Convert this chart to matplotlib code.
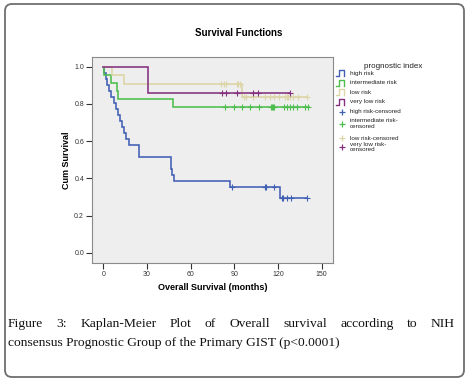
import matplotlib

matplotlib.use("Agg")

import matplotlib.pyplot as plt
from matplotlib.lines import Line2D
from matplotlib.patches import FancyBboxPatch


# ============================================================
# DATA
# ============================================================

# step curves: time of each step (months) and survival after it
high_t = [0, 0.6, 1.5, 2.7, 4.2, 5.6, 7.0, 8.5, 10.0, 11.3, 12.6,
          14.0, 15.8, 17.3, 24.2, 46.3, 47.2, 48.6, 87.2, 121.5]
high_s = [1.0, 0.968, 0.935, 0.903, 0.871, 0.839, 0.806, 0.774, 0.742,
          0.710, 0.677, 0.645, 0.613, 0.581, 0.516, 0.452, 0.419, 0.387,
          0.355, 0.296]
high_end = 140
high_cens = [88.5, 111, 112, 117, 122.5, 123.5, 126, 129, 140]

inter_t = [0, 0.3, 5.5, 9.5, 10.2, 48.0]
inter_s = [1.0, 0.957, 0.913, 0.870, 0.826, 0.782]
inter_end = 141
inter_cens = [83.5, 89.7, 95.4, 100.7, 106.9, 115.5, 116, 116.5, 117,
              124, 126, 128.2, 130.5, 133, 138.5, 140.5]

low_t = [0, 6.0, 14.0, 95.2]
low_s = [1.0, 0.955, 0.909, 0.839]
low_end = 140
low_cens = [81, 82.7, 84, 91.5, 92.8, 94.2, 96.5, 98, 103, 111, 114.5,
            117, 121, 124.8, 126, 127, 128, 130.5, 133.5, 139.7]

vlow_t = [0, 31.0]
vlow_s = [1.0, 0.857]
vlow_end = 128
vlow_cens = [81.5, 84, 91.5, 103, 106.5, 128]

group_names = ["high risk", "intermediate risk", "low risk", "very low risk"]
censored_names = [["high risk-censored"],
                  ["intermediate risk-", "censored"],
                  ["low risk-censored"],
                  ["very low risk-", "censored"]]

x_ticks = [0, 30, 60, 90, 120, 150]
y_ticks = [0.0, 0.2, 0.4, 0.6, 0.8, 1.0]

CAPTION_1 = ("Figure 3: Kaplan-Meier Plot of Overall survival "
             "according to NIH")
CAPTION_2 = ("consensus Prognostic Group of the Primary GIST "
             "(p<0.0001)")


# ============================================================
# STYLE
# ============================================================

W, H = 468, 384
DPI = 100

COLORS = ["#4160B4", "#4DBE4D", "#DCD5A6", "#84307F"]
SANS = ["Liberation Sans", "DejaVu Sans"]
SERIF = ["Liberation Serif", "DejaVu Serif"]

plt.rcParams["font.family"] = SANS


def fx(px):
    return px / W


def fy(py):
    # pixel rows counted from the top
    return 1 - py / H


def step_xy(times, surv, end):
    xs, ys = [], []
    for i, (t, s) in enumerate(zip(times, surv)):
        if i > 0:
            xs.append(t)
            ys.append(surv[i - 1])
        xs.append(t)
        ys.append(s)
    xs.append(end)
    ys.append(surv[-1])
    return xs, ys


def surv_at(times, surv, t):
    s = surv[0]
    for tt, ss in zip(times, surv):
        if tt <= t:
            s = ss
    return s


fig = plt.figure(figsize=(W / DPI, H / DPI), dpi=DPI)

# outer rounded frame
fig.patches.append(
    FancyBboxPatch(
        (5, H - 377), 459, 373,
        boxstyle="round,pad=0,rounding_size=7",
        transform=None,
        facecolor="none",
        edgecolor="#6e6e6e",
        linewidth=1.3,
    )
)

ax = fig.add_axes([fx(91.7), fy(263.3), fx(333.3 - 91.7),
                   (263.3 - 56.7) / H])
ax.set_facecolor("#eeeeee")

groups = [
    (high_t, high_s, high_end, high_cens),
    (inter_t, inter_s, inter_end, inter_cens),
    (low_t, low_s, low_end, low_cens),
    (vlow_t, vlow_s, vlow_end, vlow_cens),
]

for (times, surv, end, cens), color in zip(groups, COLORS):
    xs, ys = step_xy(times, surv, end)
    ax.plot(xs, ys, color=color, linewidth=1.15, solid_joinstyle="miter")
    ax.plot(
        cens,
        [surv_at(times, surv, c) for c in cens],
        linestyle="none",
        marker="+",
        markersize=4.5,
        markeredgewidth=0.8,
        color=color,
    )

ax.set_xlim(-8, 158)
ax.set_ylim(-0.057, 1.054)
ax.set_xticks(x_ticks)
ax.set_yticks(y_ticks)
ax.set_xticklabels([str(t) for t in x_ticks])
ax.set_yticklabels([f"{t:.1f}" for t in y_ticks])
ax.tick_params(
    direction="out",
    length=4,
    width=0.8,
    pad=1.5,
    labelsize=5,
    colors="#333333",
)
for spine in ax.spines.values():
    spine.set_color("#8a8a8a")
    spine.set_linewidth(0.8)

ax.set_xlabel("Overall Survival (months)", fontsize=6.5,
              fontweight="bold", labelpad=4)
ax.set_ylabel("Cum Survival", fontsize=6.5, fontweight="bold",
              labelpad=2)

fig.text(fx(239), fy(32.7), "Survival Functions", fontsize=7,
         fontweight="bold", ha="center", va="center")


# ============================================================
# LEGEND (drawn by hand to get the SPSS step icons)
# ============================================================

fig.text(fx(393), fy(66), "prognostic index", fontsize=5.8,
         ha="center", va="center", color="#222222")

line_rows = [73.3, 83.0, 92.3, 101.8]
for row, name, color in zip(line_rows, group_names, COLORS):
    icon_x = [fx(p) for p in (336, 339, 339, 344, 344)]
    icon_y = [fy(p) for p in (row + 3, row + 3, row - 3, row - 3, row + 3)]
    fig.add_artist(Line2D(icon_x, icon_y, color=color, linewidth=1.0))
    fig.text(fx(350), fy(row), name, fontsize=4.6, va="center",
             color="#222222")

cens_rows = [111.7, 123.7, 138.3, 146.9]
for row, lines, color in zip(cens_rows, censored_names, COLORS):
    fig.add_artist(
        Line2D([fx(342)], [fy(row)], marker="+", markersize=5,
               markeredgewidth=0.9, color=color, linestyle="none")
    )
    top = row - 2.7 * (len(lines) - 1)
    for k, line in enumerate(lines):
        fig.text(fx(350), fy(top + 5.4 * k), line, fontsize=4.5,
                 va="center", color="#222222")


# ============================================================
# CAPTION (first line justified)
# ============================================================

CAP_SIZE = 9.7
LEFT, RIGHT = 8, 455

renderer = fig.canvas.get_renderer()
words = CAPTION_1.split(" ")
word_texts = []
for w in words:
    t = fig.text(0, fy(327), w, fontsize=CAP_SIZE, family=SERIF,
                 va="baseline", color="#111111")
    word_texts.append(t)
widths = [t.get_window_extent(renderer).width for t in word_texts]
gap = (RIGHT - LEFT - sum(widths)) / (len(words) - 1)
x = LEFT
for t, w in zip(word_texts, widths):
    t.set_x(fx(x))
    x += w + gap

fig.text(fx(LEFT), fy(346), CAPTION_2, fontsize=CAP_SIZE, family=SERIF,
         va="baseline", color="#111111")

fig.savefig("out.png", dpi=DPI, facecolor="white")
